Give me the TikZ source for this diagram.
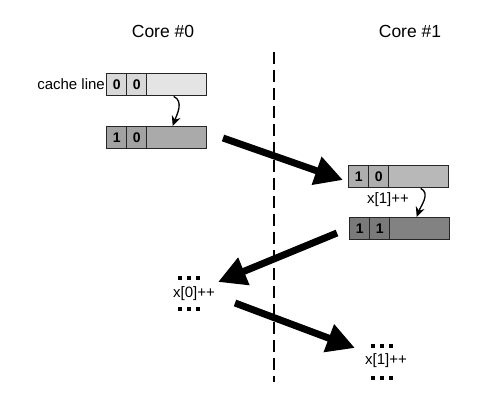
\documentclass[tikz,border=0pt]{standalone}
\usepackage{fontspec}
\setmainfont{Liberation Sans}
\usetikzlibrary{arrows.meta}
\definecolor{gA}{HTML}{D8D8D8}
\definecolor{gAr}{HTML}{E4E4E4}
\definecolor{gB}{HTML}{A2A2A2}
\definecolor{gBr}{HTML}{AAAAAA}
\definecolor{gC}{HTML}{AEAEAE}
\definecolor{gCr}{HTML}{B8B8B8}
\definecolor{gD}{HTML}{7A7A7A}
\definecolor{gDr}{HTML}{828282}
\newcommand{\onedot}{\rule{3.4pt}{3.4pt}}
\newcommand{\threedots}{\onedot\hspace{5.5pt}\onedot\hspace{5.5pt}\onedot}
\tikzset{
  cellbox/.style={draw=black!85, line width=1.4pt, anchor=north west, inner sep=0pt,
    minimum height=22pt, minimum width=20pt, font=\fontsize{14}{15}\selectfont\bfseries},
  restbox/.style={cellbox, minimum width=60pt},
  lbl/.style={font=\fontsize{15}{16}\selectfont, inner sep=0pt},
  corelbl/.style={font=\fontsize{17.5}{18}\selectfont, inner sep=0pt},
  dots/.style={inner sep=0pt},
  smallarrow/.style={line width=1.3pt, -{Stealth[length=10pt,width=9pt]}},
  bigarrow/.style={line width=7pt, -{Triangle[length=28pt,width=28pt]}},
  divider/.style={line width=1.5pt, dash pattern=on 12pt off 6pt}
}
\begin{document}
\begin{tikzpicture}[x=1pt,y=-1pt]
\useasboundingbox (0,0) rectangle (501,401);
% titles
\node[corelbl] (core0) at (163,31) {Core \#0};
\node[corelbl] (core1) at (410,31) {Core \#1};
% divider
\coordinate (dtop) at (274,52);
\coordinate (dbot) at (274,382);
\draw[divider] (dtop) -- (dbot);
% box 1
\node[cellbox, fill=gA] (a1) at (106,73) {0};
\node[cellbox, fill=gA] (b1) at (126,73) {0};
\node[restbox, fill=gAr] (r1) at (146,73) {};
\node[lbl, anchor=east] (cl) at (105,84.5) {cache line};
% box 2
\node[cellbox, fill=gB] (a2) at (106,126) {1};
\node[cellbox, fill=gB] (b2) at (126,126) {0};
\node[restbox, fill=gBr] (r2) at (146,126) {};
% box 3
\node[cellbox, fill=gC] (a3) at (348,165) {1};
\node[cellbox, fill=gC] (b3) at (368,165) {0};
\node[restbox, fill=gCr] (r3) at (388,165) {};
% box 4
\node[cellbox, fill=gD] (a4) at (349,217) {1};
\node[cellbox, fill=gD] (b4) at (369,217) {1};
\node[restbox, fill=gDr] (r4) at (389,217) {};
\node[lbl] (x1a) at (388,200) {x[1]++};
% small arrows
\draw[smallarrow] ([xshift=-3pt]r1.south) to[out=-25,in=70] ([xshift=-4pt]r2.north);
\draw[smallarrow] ([xshift=2pt]r3.south) to[out=-25,in=70] ([xshift=-3pt]r4.north);
% lower texts
\node[dots] (d0a) at (189,278) {\threedots};
\node[lbl] (x0) at (194,294) {x[0]++};
\node[dots] (d0b) at (189,309) {\threedots};
\node[dots] (d1a) at (382,346) {\threedots};
\node[lbl] (x1b) at (386,361) {x[1]++};
\node[dots] (d1b) at (382,378) {\threedots};
% big arrows
\coordinate (s1) at (223,138);
\coordinate (e1) at (343,180);
\coordinate (s2) at (337,233);
\coordinate (e2) at (218,282);
\coordinate (s3) at (235,303);
\coordinate (e3) at (355,348);
\draw[bigarrow] (s1) -- (e1);
\draw[bigarrow] (s2) -- (e2);
\draw[bigarrow] (s3) -- (e3);
\end{tikzpicture}
\end{document}
